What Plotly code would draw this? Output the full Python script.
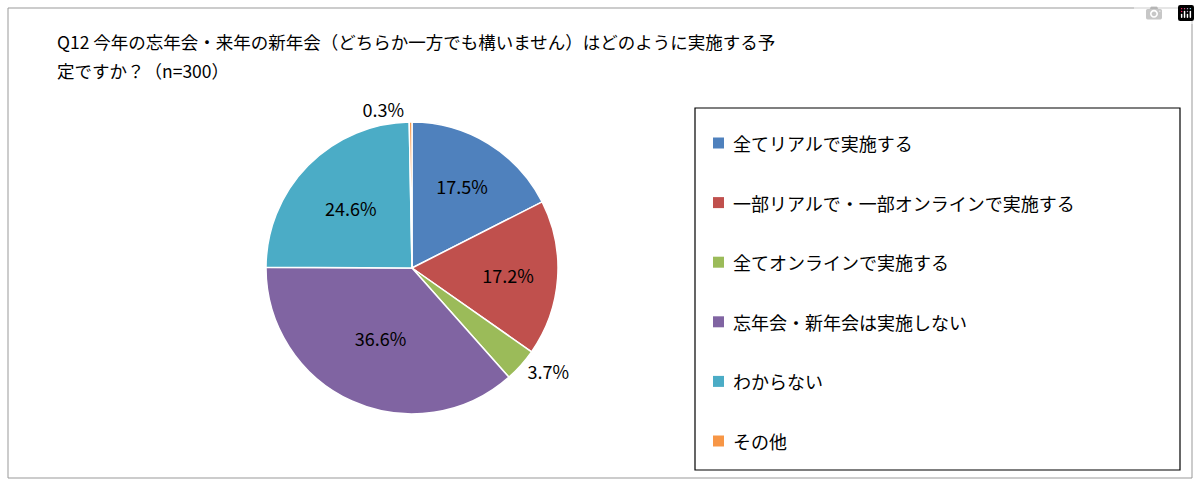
import plotly.graph_objects as go

categories = ["全てリアルで実施する", "一部リアルで・一部オンラインで実施する", "全てオンラインで実施する",
              "忘年会・新年会は実施しない", "わからない", "その他"]
values = [17.5, 17.2, 3.7, 36.6, 24.6, 0.3]
colors = ["#4F81BD", "#C0504D", "#9BBB59", "#8064A2", "#4BACC6", "#F79646"]
positions = ["inside", "inside", "outside", "inside", "inside", "outside"]
title_lines = ["Q12 今年の忘年会・来年の新年会（どちらか一方でも構いません）はどのように実施する予",
               "定ですか？（n=300）"]

W, H = 1200, 486
font = "Noto Sans CJK JP, Noto Sans, sans-serif"

fig = go.Figure(go.Pie(
    values=values, labels=categories, sort=False, direction="clockwise", rotation=0,
    marker=dict(colors=colors, line=dict(color="white", width=1.5)),
    texttemplate="%{value:.1f}%", textposition=positions,
    textfont=dict(size=18, color="black", family=font),
    insidetextorientation="horizontal", showlegend=False,
    domain=dict(x=[(412 - 146) / W, (412 + 146) / W], y=[(218 - 146) / H, (218 + 146) / H]),
))

shapes = [
    dict(type="rect", xref="paper", yref="paper", x0=8 / W, x1=1192 / W, y0=1 - 478 / H, y1=1 - 8 / H,
         line=dict(color="#999999", width=1)),
    dict(type="rect", xref="paper", yref="paper", x0=695 / W, x1=1180 / W, y0=1 - 470 / H, y1=1 - 108 / H,
         line=dict(color="black", width=1.2)),
]
annotations = []
for i, (c, col) in enumerate(zip(categories, colors)):
    yc = 143 + i * 59.6
    shapes.append(dict(type="rect", xref="paper", yref="paper", x0=713 / W, x1=724 / W,
                       y0=1 - (yc + 5.5) / H, y1=1 - (yc - 5.5) / H, fillcolor=col, line=dict(width=0)))
    annotations.append(dict(x=731 / W, y=1 - yc / H, xref="paper", yref="paper", text=c, showarrow=False,
                            xanchor="left", yanchor="middle", font=dict(size=18, color="black", family=font)))
for j, t in enumerate(title_lines):
    annotations.append(dict(x=55 / W, y=1 - (42 + j * 28) / H, xref="paper", yref="paper", text=t,
                            showarrow=False, xanchor="left", yanchor="middle",
                            font=dict(size=17.5, color="black", family=font)))

fig.update_layout(width=W, height=H, margin=dict(l=0, r=0, t=0, b=0), paper_bgcolor="white",
                  shapes=shapes, annotations=annotations)
fig.write_html("out.html", post_script="document.body.style.margin='0';document.body.style.overflow='hidden';")
